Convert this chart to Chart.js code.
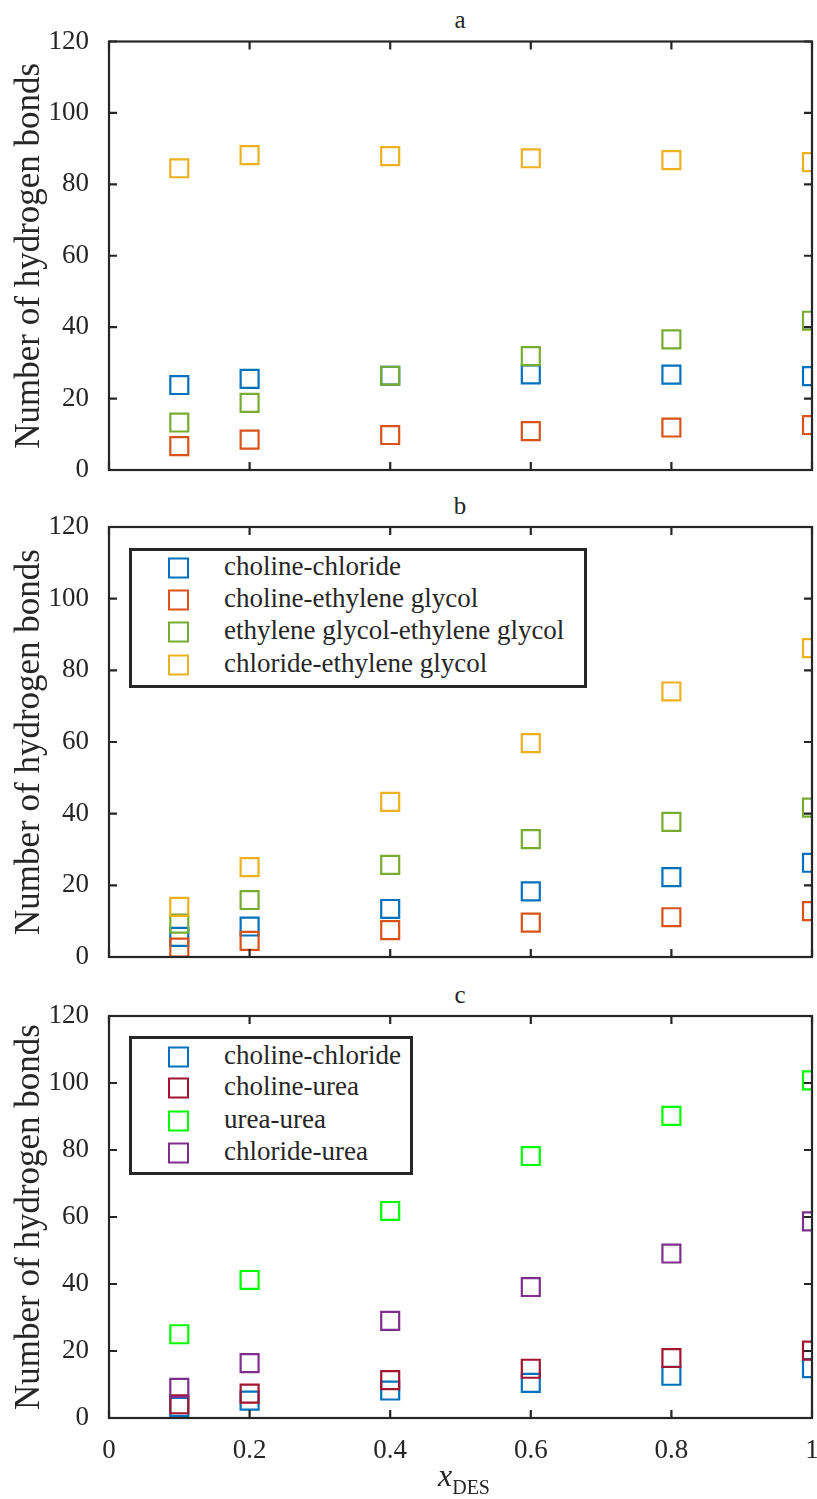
<!DOCTYPE html>
<html>
<head>
<meta charset="utf-8">
<script src="https://cdn.jsdelivr.net/npm/chart.js@4.4.1/dist/chart.umd.min.js"></script>
<style>
  body { margin: 0; background: #fff; width: 817px; height: 1499px; position: relative; overflow: hidden;
         font-family: "Liberation Serif", "Times New Roman", serif; color: #262626; }
  canvas { position: absolute; left: 0; }
  .ttl { position: absolute; font-size: 25px; transform: translate(-50%, -50%); }
  .leg { position: absolute; border: 3px solid #262626; background: #fff; box-sizing: border-box; }
  .leg .row { position: absolute; left: 92px; font-size: 27px; line-height: 1; white-space: nowrap; transform: translateY(-55%); }
  .leg .mk { position: absolute; left: 36px; width: 21px; height: 21px; border: 2.5px solid; box-sizing: border-box; transform: translateY(-50%); }
  .xlab { position: absolute; left: 464px; top: 1478px; transform: translate(-50%, -50%); font-size: 32px; white-space: nowrap; }
  .xlab sub { font-size: 20px; }
</style>
</head>
<body>
<div class="ttl" style="left:460px;top:20px">a</div>
<div class="ttl" style="left:460px;top:506px">b</div>
<div class="ttl" style="left:460px;top:995px">c</div>
<canvas id="chartA" width="817" height="486" style="top:0"></canvas>
<canvas id="chartB" width="817" height="490" style="top:486px"></canvas>
<canvas id="chartC" width="817" height="523" style="top:976px"></canvas>
<div id="legB" class="leg" style="left:129px;top:548px;width:458px;height:140px"></div>
<div id="legC" class="leg" style="left:129px;top:1036px;width:284px;height:139px"></div>
<div class="xlab"><i>x</i><sub>DES</sub></div>
<script>
// mole fraction of DES
const xDes = [0.1, 0.2, 0.4, 0.6, 0.8, 1];
const xTicks = [0, 0.2, 0.4, 0.6, 0.8, 1];
const xTickLabels = ["0", "0.2", "0.4", "0.6", "0.8", "1"];
const yTicks = [0, 20, 40, 60, 80, 100, 120];

// panel a
const aCholCl = [23.8, 25.5, 26.4, 26.8, 26.7, 26.3];
const aCholEG = [6.7, 8.5, 9.8, 10.9, 11.9, 12.6];
const aEGEG = [13.3, 18.8, 26.4, 31.9, 36.6, 41.8];
const aClEG = [84.5, 88.2, 87.9, 87.3, 86.8, 86.2];

// panel b
const bCholCl = [5.6, 8.5, 13.4, 18.3, 22.3, 26.3];
const bCholEG = [2.6, 4.5, 7.5, 9.6, 11.1, 12.8];
const bEGEG = [9.3, 15.9, 25.7, 32.9, 37.7, 41.7];
const bClEG = [14.0, 25.1, 43.3, 59.7, 74.1, 86.2];

// panel c
const cCholCl = [3.3, 5.2, 8.2, 10.5, 12.6, 14.9];
const cCholUrea = [4.1, 7.3, 11.3, 14.7, 17.9, 20.1];
const cUreaUrea = [25.0, 41.2, 61.8, 78.2, 90.2, 100.8];
const cClUrea = [9.0, 16.4, 29.0, 39.1, 49.1, 58.7];

const namesEG = ["choline-chloride", "choline-ethylene glycol", "ethylene glycol-ethylene glycol", "chloride-ethylene glycol"];
const namesUrea = ["choline-chloride", "choline-urea", "urea-urea", "chloride-urea"];
const colorsEG = ["#0072BD", "#D95319", "#77AC30", "#EDB120"];
const colorsUrea = ["#0072BD", "#A2142F", "#00FF00", "#7E2F8E"];

const axisColor = "#262626";
const serif = '"Liberation Serif", "Times New Roman", serif';

// box + inward ticks on all four sides, like matlab
const framePlugin = {
  id: "frame",
  afterDatasetsDraw(chart) {
    const { ctx, chartArea: a, scales } = chart;
    const t = 8;
    ctx.save();
    ctx.strokeStyle = axisColor;
    ctx.lineWidth = 2.2;
    ctx.beginPath();
    scales.x.ticks.forEach(tk => {
      const px = scales.x.getPixelForValue(tk.value);
      ctx.moveTo(px, a.bottom); ctx.lineTo(px, a.bottom - t);
      ctx.moveTo(px, a.top); ctx.lineTo(px, a.top + t);
    });
    scales.y.ticks.forEach(tk => {
      const py = scales.y.getPixelForValue(tk.value);
      ctx.moveTo(a.left, py); ctx.lineTo(a.left + t, py);
      ctx.moveTo(a.right, py); ctx.lineTo(a.right - t, py);
    });
    ctx.stroke();
    ctx.strokeRect(a.left, a.top, a.right - a.left, a.bottom - a.top);
    ctx.restore();
  }
};

function makeDatasets(series, names, colors) {
  return series.map((vals, i) => ({
    label: names[i],
    data: xDes.map((x, j) => ({ x: x, y: vals[j] })),
    pointStyle: "rect",
    pointRadius: 12.7,
    pointBorderWidth: 2.2,
    borderColor: colors[i],
    backgroundColor: "rgba(0,0,0,0)",
    order: -i
  }));
}

function makeChart(id, series, names, colors, padTop, xHeight, showX) {
  return new Chart(document.getElementById(id), {
    type: "scatter",
    data: { datasets: makeDatasets(series, names, colors) },
    options: {
      responsive: false,
      animation: false,
      devicePixelRatio: 1,
      layout: { autoPadding: false, padding: { top: padTop, right: 5, left: 0, bottom: 0 } },
      plugins: { legend: { display: false }, tooltip: { enabled: false } },
      scales: {
        x: {
          type: "linear", min: 0, max: 1,
          afterBuildTicks: s => { s.ticks = xTicks.map(v => ({ value: v })); },
          afterFit: s => { s.height = xHeight; s.paddingLeft = 0; s.paddingRight = 0; },
          grid: { display: false },
          border: { display: false },
          ticks: {
            display: showX,
            padding: 9,
            color: axisColor,
            font: { family: serif, size: 27 },
            callback: (v, i) => xTickLabels[i]
          }
        },
        y: {
          min: 0, max: 120,
          afterBuildTicks: s => { s.ticks = yTicks.map(v => ({ value: v })); },
          afterFit: s => { s.width = 109; s.paddingTop = 0; s.paddingBottom = 0; },
          grid: { display: false },
          border: { display: false },
          title: {
            display: true,
            text: "Number of hydrogen bonds",
            color: axisColor,
            font: { family: serif, size: 35 },
            padding: { top: 9, bottom: 0 }
          },
          ticks: {
            padding: 12,
            color: axisColor,
            font: { family: serif, size: 27 }
          }
        }
      }
    },
    plugins: [framePlugin]
  });
}

makeChart("chartA", [aCholCl, aCholEG, aEGEG, aClEG], namesEG, colorsEG, 41.5, 16, false);
makeChart("chartB", [bCholCl, bCholEG, bEGEG, bClEG], namesEG, colorsEG, 41, 19, false);
makeChart("chartC", [cCholCl, cCholUrea, cUreaUrea, cClUrea], namesUrea, colorsUrea, 40, 81, true);

// legends drawn as html boxes inside the plot area
function buildLegend(id, names, colors, rows) {
  const box = document.getElementById(id);
  names.forEach((n, i) => {
    const mk = document.createElement("span");
    mk.className = "mk";
    mk.style.top = rows[i] + "px";
    mk.style.borderColor = colors[i];
    box.appendChild(mk);
    const tx = document.createElement("div");
    tx.className = "row";
    tx.style.top = rows[i] + "px";
    tx.textContent = n;
    box.appendChild(tx);
  });
}
buildLegend("legB", namesEG, colorsEG, [17, 49, 81, 114]);
buildLegend("legC", namesUrea, colorsUrea, [18, 49, 82, 114]);
</script>
</body>
</html>
